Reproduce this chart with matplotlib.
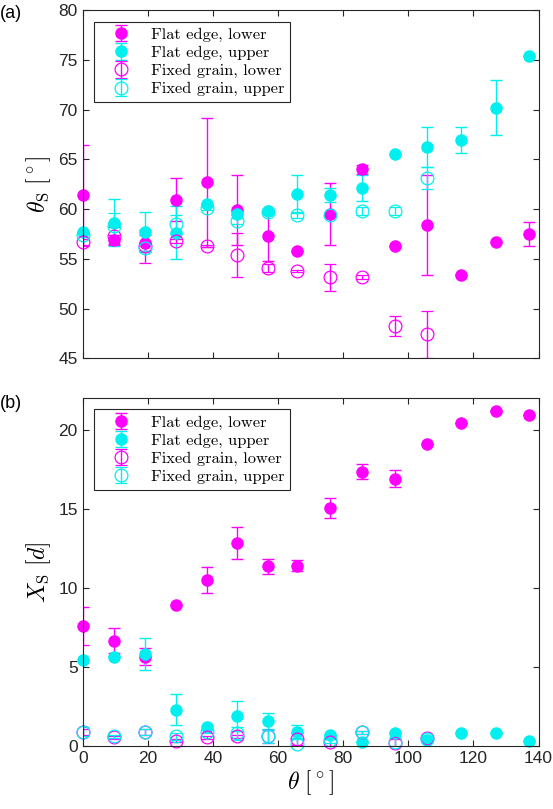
import matplotlib

matplotlib.use("Agg")
import matplotlib.pyplot as plt  # noqa: E402
import numpy as np  # noqa: E402

plt.rcParams["mathtext.fontset"] = "cm"
plt.rcParams["font.family"] = ["Liberation Sans", "DejaVu Sans"]

MAGENTA = "#FF00FF"
CYAN = "#00F0F0"

# incidence angle theta (deg)
theta_flat = [0, 9.7, 19.2, 28.7, 38.1, 47.5, 56.9, 65.9, 76.0, 85.7,
              95.8, 105.8, 116.3, 126.9, 137.0]
theta_fixed = theta_flat[:12]

# (a) scattering angle theta_S (deg)
ts_flat_lower = [61.4, 56.9, 56.6, 60.95, 62.7, 59.9, 57.3, 55.8, 59.5, 64.0,
                 56.3, 58.4, 53.4, 56.65, 57.5]
ts_flat_lower_err = [5.1, 0.5, 0.8, 2.15, 6.5, 3.5, 2.55, 0.0, 3.1, 0.45,
                     0.0, 5.0, 0.0, 0.0, 1.2]
ts_flat_upper = [57.7, 58.65, 57.75, 57.65, 60.5, 59.5, 59.85, 61.5, 61.45, 62.1,
                 65.55, 66.25, 66.95, 70.2, 75.45]
ts_flat_upper_err = [0.0, 2.35, 1.95, 2.65, 0.0, 0.0, 0.0, 1.9, 0.7, 1.3,
                     0.0, 2.05, 1.35, 2.75, 0.0]
ts_fixed_lower = [56.65, 57.35, 56.25, 56.8, 56.3, 55.4, 54.1, 53.8, 53.15, 53.2,
                  48.25, 47.4]
ts_fixed_lower_err = [0.3, 0.9, 1.7, 0.2, 0.1, 2.2, 0.4, 0.1, 1.35, 0.2,
                      1.0, 2.4]
ts_fixed_upper = [57.4, 58.35, 56.1, 58.5, 60.1, 58.85, 59.7, 59.4, 59.4, 59.85,
                  59.85, 63.1]
ts_fixed_upper_err = [0.2, 1.25, 0.4, 0.9, 0.2, 0.3, 0.2, 0.3, 0.1, 0.4,
                      0.4, 1.1]

# (b) scattering distance X_S (grain diameters)
xs_flat_lower = [7.6, 6.65, 5.65, 8.9, 10.5, 12.85, 11.35, 11.4, 15.05, 17.35,
                 16.9, 19.1, 20.4, 21.2, 20.9]
xs_flat_lower_err = [1.2, 0.8, 0.55, 0.0, 0.8, 1.0, 0.5, 0.35, 0.65, 0.5,
                     0.55, 0.0, 0.0, 0.0, 0.0]
xs_flat_upper = [5.45, 5.6, 5.8, 2.3, 1.18, 1.9, 1.58, 0.9, 0.7, 0.27,
                 0.84, 0.38, 0.8, 0.8, 0.34]
xs_flat_upper_err = [0.0, 0.0, 1.0, 1.0, 0.1, 0.95, 0.5, 0.4, 0.0, 0.0,
                     0.0, 0.0, 0.0, 0.0, 0.0]
xs_fixed_lower = [0.9, 0.55, 0.87, 0.32, 0.55, 0.6, 0.6, 0.45, 0.23, 0.87,
                  0.17, 0.49]
xs_fixed_lower_err = [0.2, 0.1, 0.2, 0.1, 0.1, 0.1, 0.4, 0.4, 0.2, 0.1,
                      0.3, 0.15]
xs_fixed_upper = [0.9, 0.6, 0.87, 0.6, 0.9, 0.8, 0.6, 0.15, 0.4, 0.87,
                  0.27, 0.45]
xs_fixed_upper_err = [0.3, 0.1, 0.2, 0.2, 0.1, 0.4, 0.4, 0.3, 0.2, 0.1,
                      0.3, 0.2]

LABELS = ["Flat edge, lower", "Flat edge, upper",
          "Fixed grain, lower", "Fixed grain, upper"]


def draw(ax, series):
    for (x, y, e, color, filled), label in zip(series, LABELS):
        kw = dict(fmt="o", color=color, ecolor=color, elinewidth=1.0,
                  capsize=4.5, capthick=1.0, label=label)
        if filled:
            kw.update(ms=8, mfc=color, mec=color)
        else:
            kw.update(ms=9.2, mfc="none", mec=color, mew=0.9)
        line, _, _ = ax.errorbar(x, y, yerr=e, **kw)
        line.set_clip_on(False)  # markers overhang the axes like MATLAB
    ax.set_xlim(0, 140)
    ax.set_xticks(np.arange(0, 141, 20))
    ax.tick_params(direction="in", top=True, right=True, length=4,
                   width=0.8, labelsize=12.5, colors="#262626")
    for sp in ax.spines.values():
        sp.set_color("#262626")
        sp.set_linewidth(0.8)
    leg = ax.legend(loc="upper left", bbox_to_anchor=(0.025, 0.967),
                    borderaxespad=0, fancybox=False, framealpha=1,
                    edgecolor="#262626", prop={"family": "cmr10", "size": 11.8},
                    handlelength=2.6, handletextpad=0.5, labelspacing=0.22,
                    borderpad=0.35)
    leg.get_frame().set_linewidth(0.8)


fig = plt.figure(figsize=(5.53, 8.09), dpi=100)
ax1 = fig.add_axes([0.1496, 0.5571, 0.8242, 0.4302])
ax2 = fig.add_axes([0.1496, 0.0779, 0.8242, 0.4302])

draw(ax1, [
    (theta_flat, ts_flat_lower, ts_flat_lower_err, MAGENTA, True),
    (theta_flat, ts_flat_upper, ts_flat_upper_err, CYAN, True),
    (theta_fixed, ts_fixed_lower, ts_fixed_lower_err, MAGENTA, False),
    (theta_fixed, ts_fixed_upper, ts_fixed_upper_err, CYAN, False),
])
ax1.set_ylim(45, 80)
ax1.set_yticks(np.arange(45, 81, 5))
ax1.set_xticklabels([])
ax1.set_ylabel(r"$\theta_\mathrm{S}\ [^\circ]$", fontsize=17)

draw(ax2, [
    (theta_flat, xs_flat_lower, xs_flat_lower_err, MAGENTA, True),
    (theta_flat, xs_flat_upper, xs_flat_upper_err, CYAN, True),
    (theta_fixed, xs_fixed_lower, xs_fixed_lower_err, MAGENTA, False),
    (theta_fixed, xs_fixed_upper, xs_fixed_upper_err, CYAN, False),
])
ax2.set_ylim(0, 22)
ax2.set_yticks([0, 5, 10, 15, 20])
ax2.set_ylabel(r"$X_\mathrm{S}\ [d]$", fontsize=17)
ax2.set_xlabel(r"$\theta\ [^\circ]$", fontsize=17, labelpad=2)

fig.text(0.0, 1 - 13 / 809, "(a)", fontsize=13, va="center", ha="left")
fig.text(0.0, 1 - 403 / 809, "(b)", fontsize=13, va="center", ha="left")

fig.savefig("out.png", dpi=100)
